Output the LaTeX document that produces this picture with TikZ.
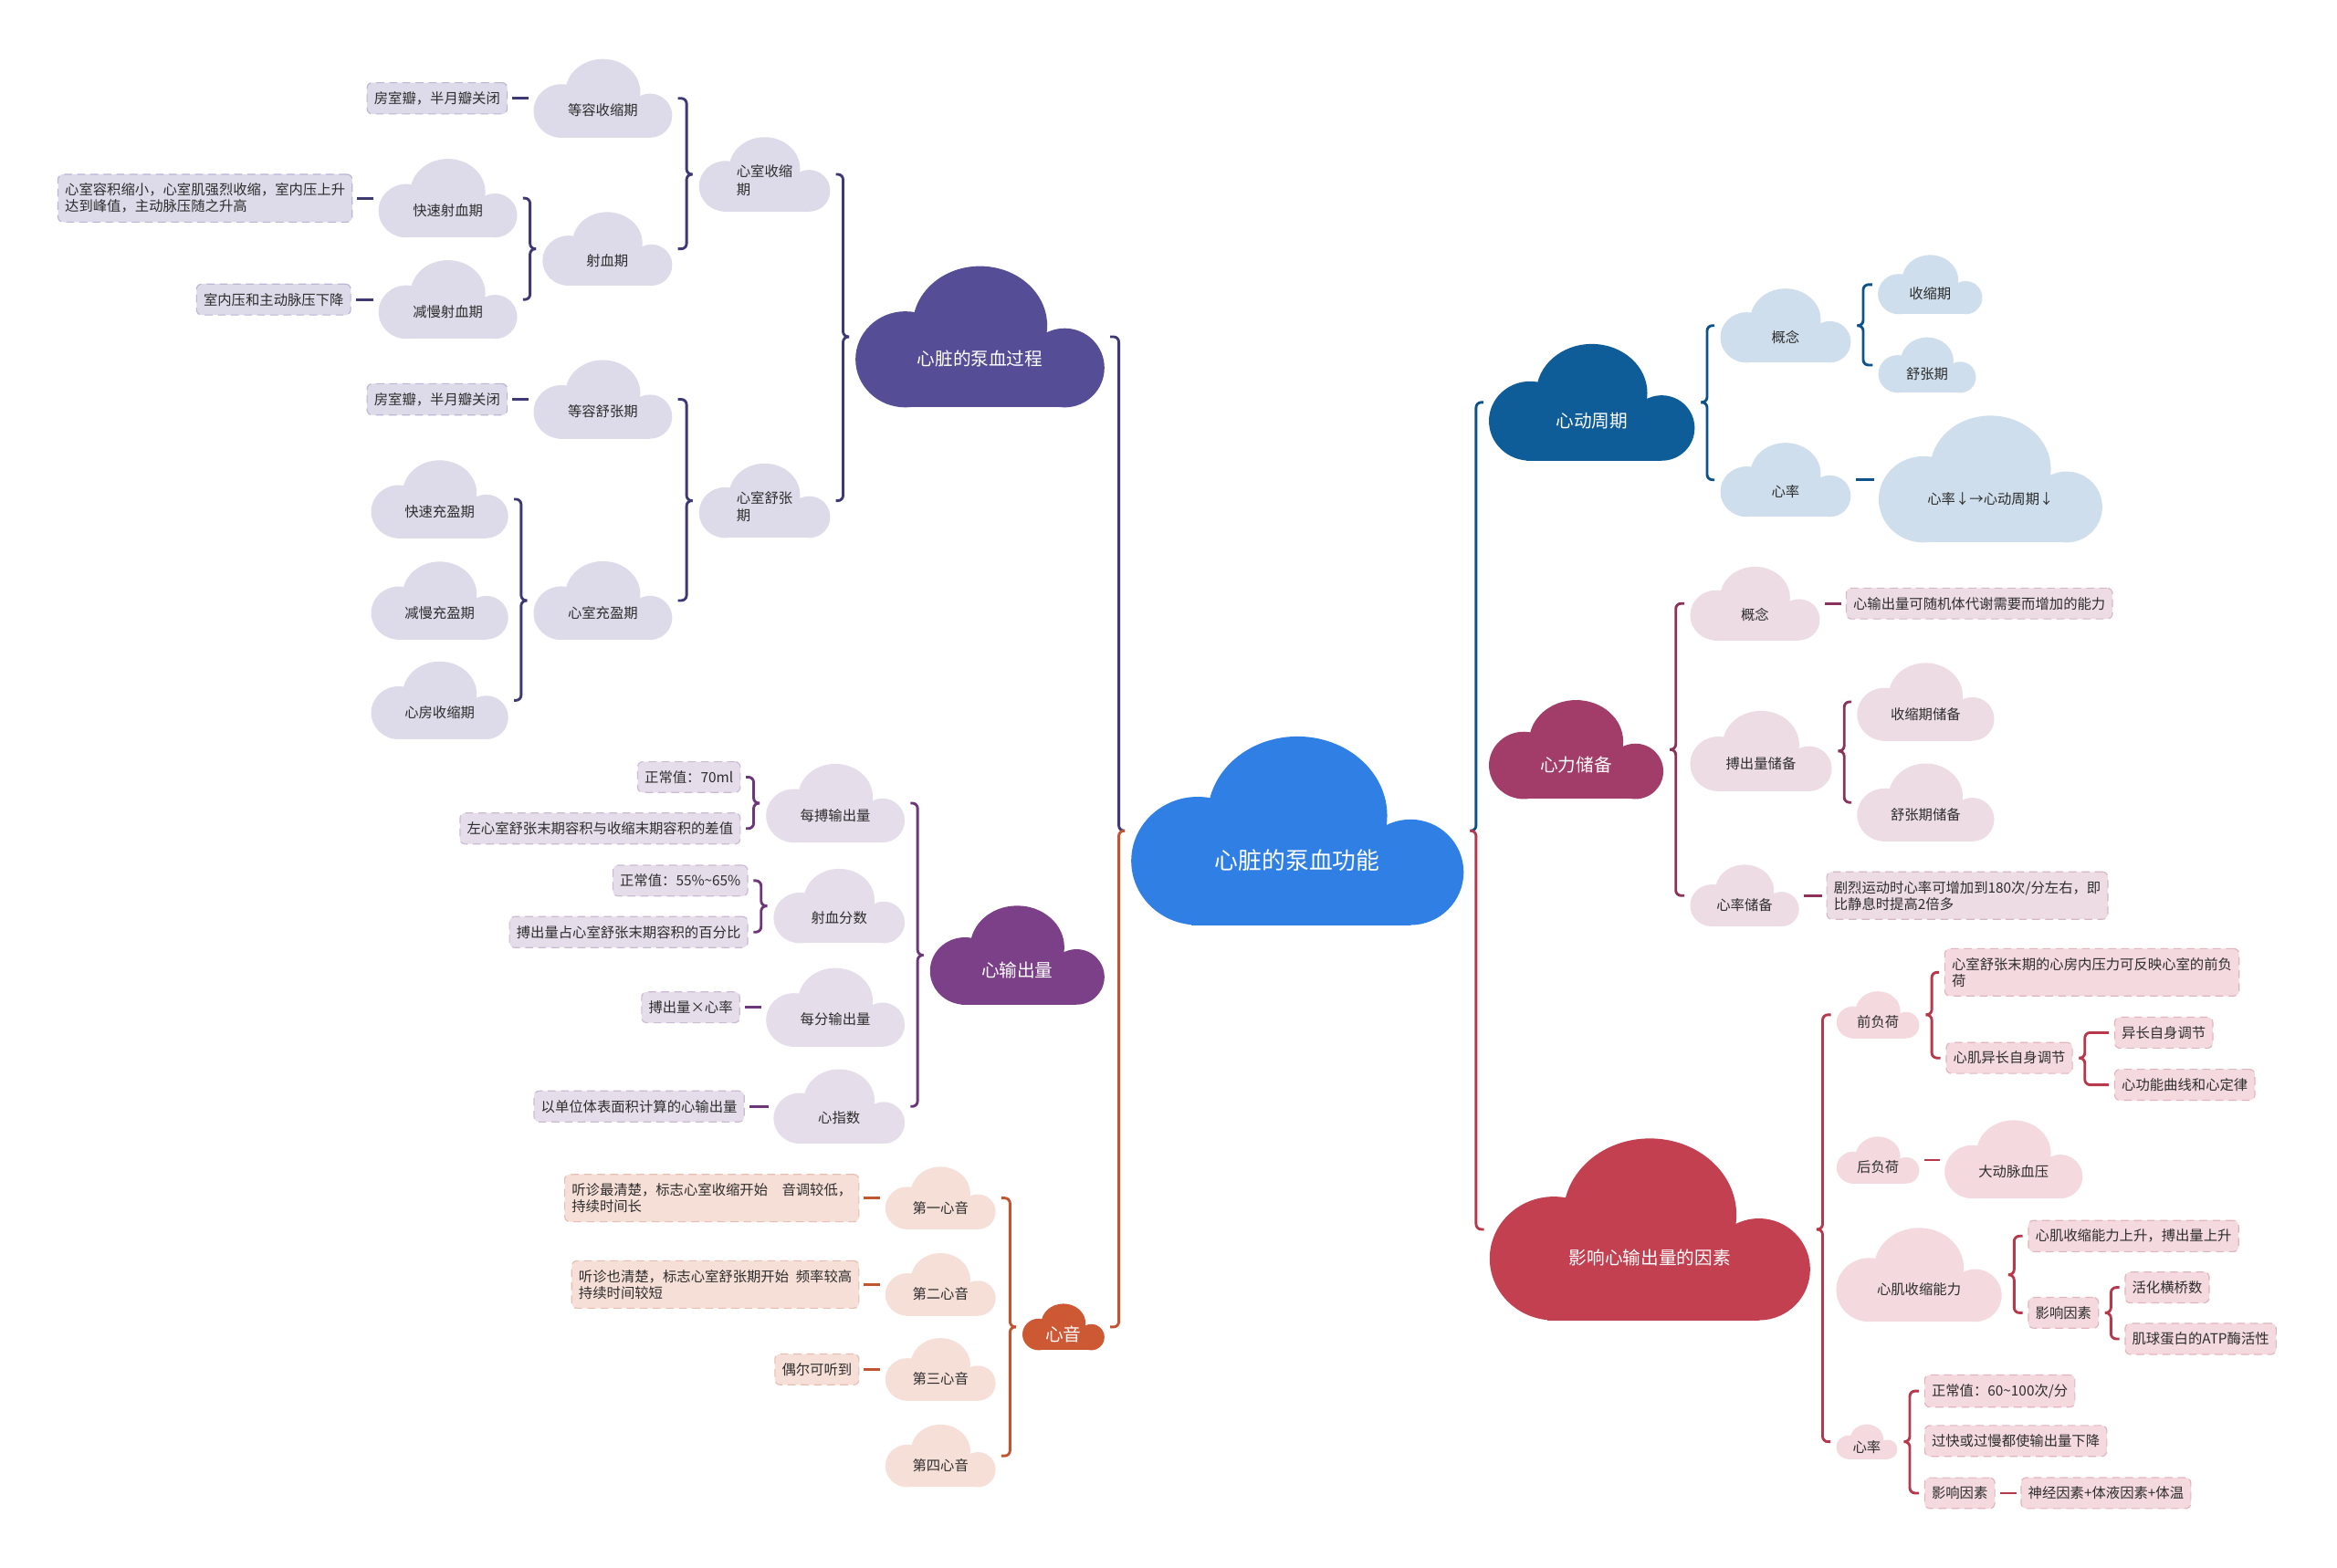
\documentclass[tikz,border=0pt]{standalone}
\usepackage{fontspec}
\setmainfont{Noto Sans CJK SC}
\usetikzlibrary{calc}
\usetikzlibrary{positioning}
\definecolor{cRoot}{RGB}{47,127,229}
\definecolor{cTxt}{RGB}{45,45,45}
\definecolor{cA}{RGB}{85,78,150}   \definecolor{cAs}{RGB}{221,219,234} \definecolor{cAl}{RGB}{62,56,116}  \definecolor{cAb}{RGB}{186,182,212}
\definecolor{cB}{RGB}{123,64,135}  \definecolor{cBs}{RGB}{230,221,235} \definecolor{cBl}{RGB}{108,54,120} \definecolor{cBb}{RGB}{204,186,212}
\definecolor{cC}{RGB}{204,88,52}   \definecolor{cCs}{RGB}{246,223,215} \definecolor{cCl}{RGB}{194,84,48}  \definecolor{cCb}{RGB}{230,190,178}
\definecolor{cD}{RGB}{14,92,152}   \definecolor{cDs}{RGB}{206,222,236} \definecolor{cDl}{RGB}{14,82,140}
\definecolor{cE}{RGB}{161,61,104}  \definecolor{cEs}{RGB}{237,220,228} \definecolor{cEl}{RGB}{140,50,90}  \definecolor{cEb}{RGB}{212,184,198}
\definecolor{cF}{RGB}{194,64,80}   \definecolor{cFs}{RGB}{244,218,223} \definecolor{cFl}{RGB}{182,56,74}  \definecolor{cFb}{RGB}{226,180,190}
% brace half from a parent to one child, and a short dash to a single child
\newcommand{\brr}[3]{\draw[#3] ($(#1.east)+(4,0)$) -- ++(4,0) |- ($(#2.west)+(-3.5,0)$);}
\newcommand{\brl}[3]{\draw[#3] ($(#1.west)+(-4,0)$) -- ++(-4,0) |- ($(#2.east)+(3.5,0)$);}
\newcommand{\dsr}[3]{\draw[#3] ($(#1.east)+(3,0)$) -- ($(#1.east -| #2.west)+(-3,0)$);}
\newcommand{\dsl}[3]{\draw[#3] ($(#1.west)+(-3,0)$) -- ($(#1.west -| #2.east)+(3,0)$);}

\begin{document}
\begin{tikzpicture}[x=0.02cm, y=-0.02cm]
    \tikzset{ cld/.style 2 args={inner sep=0pt, text depth=0pt, minimum width=#1*0.02cm, minimum height=#1*0.01136cm,
        path picture={
          \fill[#2] let \p1=(path picture bounding box.south west), \p2=(path picture bounding box.north east), \n1={\x2-\x1}, \n2={\y2-\y1} in
            (\x1+0.20*\n1*1pt, \y1+0.34*\n2*1pt) ellipse [x radius=0.20*\n1*1pt, y radius=0.34*\n2*1pt]
            (\x1+0.50*\n1*1pt, \y1+0.58*\n2*1pt) ellipse [x radius=0.27*\n1*1pt, y radius=0.42*\n2*1pt]
            (\x1+0.84*\n1*1pt, \y1+0.28*\n2*1pt) ellipse [x radius=0.16*\n1*1pt, y radius=0.28*\n2*1pt];
          \fill[#2] let \p1=(path picture bounding box.south west), \p2=(path picture bounding box.north east), \n1={\x2-\x1}, \n2={\y2-\y1} in
            (\x1+0.18*\n1*1pt, \y1) rectangle (\x1+0.84*\n1*1pt, \y1+0.40*\n2*1pt);}} }
    \tikzset{ rootc/.style={cld={223}{cRoot}, text=white, font=\fontsize{9}{11}\selectfont, text height=1.025cm} }
    \tikzset{ mainc/.style 2 args={cld={#1}{#2}, text=white, font=\fontsize{6.85}{8.5}\selectfont, text height={0.183cm+#1*0.00352cm}} }
    \tikzset{ subc/.style 2 args={cld={#1}{#2}, text=cTxt, font=\fontsize{5.35}{6.8}\selectfont, text height={0.143cm+#1*0.00352cm}} }
    \tikzset{ leaf/.style={densely dashed, line width=0.4pt, rounded corners=2pt, inner xsep=0.094cm, inner ysep=0.12cm, align=left, text=cTxt, font=\fontsize{5.35}{6.3}\selectfont} }
    \tikzset{ leafA/.style={leaf, fill=cAs, draw=cAb}, leafB/.style={leaf, fill=cBs, draw=cBb}, leafC/.style={leaf, fill=cCs, draw=cCb},
              leafE/.style={leaf, fill=cEs, draw=cEb}, leafF/.style={leaf, fill=cFs, draw=cFb} }
    \tikzset{ ln/.style={line width=1pt, rounded corners=2pt},
              lnA/.style={ln, draw=cAl}, lnB/.style={ln, draw=cBl}, lnC/.style={ln, draw=cCl},
              lnD/.style={ln, draw=cDl}, lnE/.style={ln, draw=cEl}, lnF/.style={ln, draw=cFl} }

    \path[use as bounding box, fill=white] (0,0) rectangle (1568,1052);

    \node[rootc]                 (root)  at (870.5,557.5) {心脏的泵血功能};

    % left: pumping process
    \node[mainc={167}{cA}]       (pump)  at (657.5,226)   {心脏的泵血过程};
    \node[subc={88}{cAs}, text height=0.063cm] (sys) at (513,117) {\begin{tabular}[t]{@{}l@{}}心室收缩\\期\end{tabular}};
    \node[subc={93}{cAs}]        (isoc)  at (404.5,66)    {等容收缩期};
    \node[leafA, left=0.34cm of isoc]  (isocn)            {房室瓣，半月瓣关闭};
    \node[subc={87}{cAs}]        (ejec)  at (407.5,167)   {射血期};
    \node[subc={93}{cAs}]        (fej)   at (300.5,133)   {快速射血期};
    \node[leafA, left=0.34cm of fej]   (fejn)             {心室容积缩小，心室肌强烈收缩，室内压上升\\达到峰值，主动脉压随之升高};
    \node[subc={93}{cAs}]        (sej)   at (300.5,201)   {减慢射血期};
    \node[leafA, left=0.36cm of sej]   (sejn)             {室内压和主动脉压下降};
    \node[subc={88}{cAs}, text height=0.063cm] (dia) at (513,336) {\begin{tabular}[t]{@{}l@{}}心室舒张\\期\end{tabular}};
    \node[subc={93}{cAs}]        (isor)  at (404.5,268)   {等容舒张期};
    \node[leafA, left=0.34cm of isor]  (isorn)            {房室瓣，半月瓣关闭};
    \node[subc={93}{cAs}]        (vfil)  at (404.5,403)   {心室充盈期};
    \node[subc={92}{cAs}]        (ffil)  at (295,335)     {快速充盈期};
    \node[subc={92}{cAs}]        (sfil)  at (295,403)     {减慢充盈期};
    \node[subc={92}{cAs}]        (atr)   at (295,470)     {心房收缩期};

    % left: cardiac output
    \node[mainc={117}{cB}]       (out)   at (682.5,641)   {心输出量};
    \node[subc={93}{cBs}]        (sv)    at (560.5,539)   {每搏输出量};
    \node[leafB, anchor=east]    (sv1)   at (497,521.5)   {正常值：70ml};
    \node[leafB, anchor=east]    (sv2)   at (497,556)     {左心室舒张末期容积与收缩末期容积的差值};
    \node[subc={88}{cBs}]        (ef)    at (563,608)     {射血分数};
    \node[leafB, anchor=east]    (ef1)   at (502,591)     {正常值：55\%\textasciitilde65\%};
    \node[leafB, anchor=east]    (ef2)   at (502,625.5)   {搏出量占心室舒张末期容积的百分比};
    \node[subc={93}{cBs}]        (mv)    at (560.5,676)   {每分输出量};
    \node[leafB, left=0.34cm of mv]    (mv1)              {搏出量×心率};
    \node[subc={88}{cBs}]        (ci)    at (563,742.5)   {心指数};
    \node[leafB, left=0.38cm of ci]    (ci1)              {以单位体表面积计算的心输出量};

    % left: heart sounds
    \node[mainc={55}{cC}]        (snd)   at (713.5,890.5) {心音};
    \node[subc={74}{cCs}]        (s1)    at (631,804)     {第一心音};
    \node[leafC, left=0.34cm of s1]    (s1n)              {听诊最清楚，标志心室收缩开始\quad 音调较低，\\持续时间长};
    \node[subc={74}{cCs}]        (s2)    at (631,862)     {第二心音};
    \node[leafC, left=0.34cm of s2]    (s2n)              {听诊也清楚，标志心室舒张期开始\enspace 频率较高\\持续时间较短};
    \node[subc={74}{cCs}]        (s3)    at (631,919)     {第三心音};
    \node[leafC, left=0.34cm of s3]    (s3n)              {偶尔可听到};
    \node[subc={74}{cCs}]        (s4)    at (631,977)     {第四心音};

    % right: cardiac cycle
    \node[mainc={138}{cD}]       (cyc)   at (1068,270)    {心动周期};
    \node[subc={87.5}{cDs}]      (cpt)   at (1198,218.5)  {概念};
    \node[subc={70}{cDs}]        (sysp)  at (1295,191)    {收缩期};
    \node[subc={65.5}{cDs}]      (diap)  at (1293,245)    {舒张期};
    \node[subc={87.5}{cDs}]      (hr)    at (1198,322)    {心率};
    \node[subc={150}{cDs}]       (hrc)   at (1335.5,321.5) {心率↓→心动周期↓};

    % right: cardiac reserve
    \node[mainc={117}{cE}]       (res)   at (1057.5,503)  {心力储备};
    \node[subc={87}{cEs}]        (rcpt)  at (1177.5,405)  {概念};
    \node[leafE, right=0.34cm of rcpt] (rcptn)            {心输出量可随机体代谢需要而增加的能力};
    \node[subc={95}{cEs}]        (svr)   at (1181.5,504)  {搏出量储备};
    \node[subc={92}{cEs}]        (sysr)  at (1292,471)    {收缩期储备};
    \node[subc={92}{cEs}]        (diar)  at (1292,538.5)  {舒张期储备};
    \node[subc={73}{cEs}]        (hrr)   at (1170.5,601)  {心率储备};
    \node[leafE, right=0.36cm of hrr]  (hrrn)             {剧烈运动时心率可增加到180次/分左右，即\\比静息时提高2倍多};

    % right: factors
    \node[mainc={215}{cF}]       (fac)   at (1107,825)    {影响心输出量的因素};
    \node[subc={55.5}{cFs}]      (pre)   at (1260,681)    {前负荷};
    \node[leafF, anchor=west]    (pre1)  at (1304.5,652.5) {心室舒张末期的心房内压力可反映心室的前负\\荷};
    \node[leafF, anchor=west]    (pre2)  at (1305.5,710)  {心肌异长自身调节};
    \node[leafF, anchor=west]    (pre21) at (1418.5,693)  {异长自身调节};
    \node[leafF, anchor=west]    (pre22) at (1418.5,728)  {心功能曲线和心定律};
    \node[subc={55.5}{cFs}]      (post)  at (1260,778.5)  {后负荷};
    \node[subc={92.5}{cFs}]      (abp)   at (1351,778)    {大动脉血压};
    \node[subc={111}{cFs}]       (con)   at (1287.5,855.5) {心肌收缩能力};
    \node[leafF, anchor=west]    (con1)  at (1360.6,829.5) {心肌收缩能力上升，搏出量上升};
    \node[leafF, anchor=west]    (con2)  at (1360.6,881)  {影响因素};
    \node[leafF, anchor=west]    (con21) at (1425.5,864)  {活化横桥数};
    \node[leafF, anchor=west]    (con22) at (1425.5,898.5) {肌球蛋白的ATP酶活性};
    \node[subc={41}{cFs}]        (rate)  at (1252.5,967.5) {心率};
    \node[leafF, anchor=west]    (rate1) at (1291,933.5)  {正常值：60\textasciitilde100次/分};
    \node[leafF, anchor=west]    (rate2) at (1291,967)    {过快或过慢都使输出量下降};
    \node[leafF, anchor=west]    (rate3) at (1291,1002)   {影响因素};
    \node[leafF, right=0.34cm of rate3] (rate31)          {神经因素+体液因素+体温};

    \brl{root}{pump}{lnA}  \brl{root}{snd}{lnC}
    \brr{root}{cyc}{lnD}   \brr{root}{fac}{lnF}

    \brl{pump}{sys}{lnA}   \brl{pump}{dia}{lnA}
    \brl{sys}{isoc}{lnA}   \brl{sys}{ejec}{lnA}
    \dsl{isoc}{isocn}{lnA}
    \brl{ejec}{fej}{lnA}   \brl{ejec}{sej}{lnA}
    \dsl{fej}{fejn}{lnA}   \dsl{sej}{sejn}{lnA}
    \brl{dia}{isor}{lnA}   \brl{dia}{vfil}{lnA}
    \dsl{isor}{isorn}{lnA}
    \brl{vfil}{ffil}{lnA}  \brl{vfil}{atr}{lnA}

    \brl{out}{sv}{lnB}     \brl{out}{ci}{lnB}
    \brl{sv}{sv1}{lnB}     \brl{sv}{sv2}{lnB}
    \brl{ef}{ef1}{lnB}     \brl{ef}{ef2}{lnB}
    \dsl{mv}{mv1}{lnB}     \dsl{ci}{ci1}{lnB}

    \brl{snd}{s1}{lnC}     \brl{snd}{s4}{lnC}
    \dsl{s1}{s1n}{lnC}     \dsl{s2}{s2n}{lnC}     \dsl{s3}{s3n}{lnC}

    \brr{cyc}{cpt}{lnD}    \brr{cyc}{hr}{lnD}
    \brr{cpt}{sysp}{lnD}   \brr{cpt}{diap}{lnD}
    \dsr{hr}{hrc}{lnD}

    \brr{res}{rcpt}{lnE}   \brr{res}{hrr}{lnE}
    \dsr{rcpt}{rcptn}{lnE}
    \brr{svr}{sysr}{lnE}   \brr{svr}{diar}{lnE}
    \dsr{hrr}{hrrn}{lnE}

    \brr{fac}{pre}{lnF}    \brr{fac}{rate}{lnF}
    \brr{pre}{pre1}{lnF}   \brr{pre}{pre2}{lnF}
    \brr{pre2}{pre21}{lnF} \brr{pre2}{pre22}{lnF}
    \dsr{post}{abp}{lnF}
    \brr{con}{con1}{lnF}   \brr{con}{con2}{lnF}
    \brr{con2}{con21}{lnF} \brr{con2}{con22}{lnF}
    \brr{rate}{rate1}{lnF} \brr{rate}{rate3}{lnF}
    \dsr{rate3}{rate31}{lnF}
\end{tikzpicture}
\end{document}
